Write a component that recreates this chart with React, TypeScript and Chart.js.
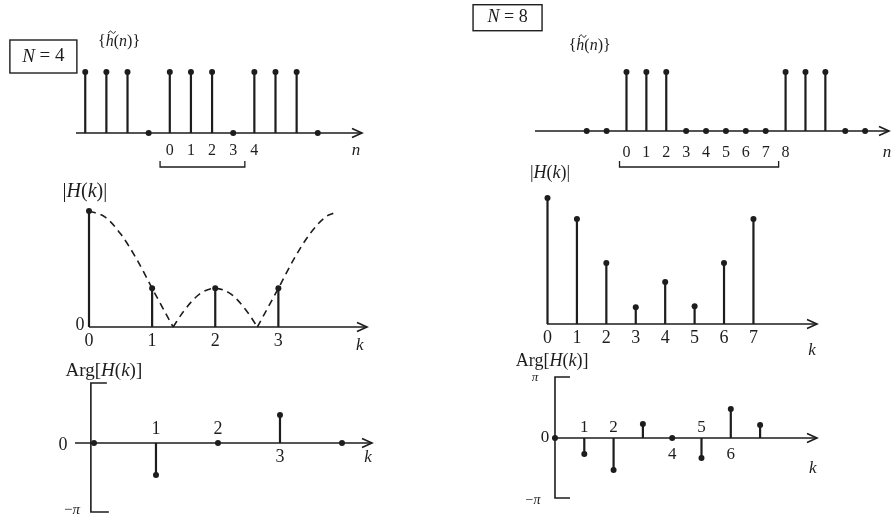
import React, { useEffect, useRef } from "react";
import { Chart, registerables } from "chart.js";

Chart.register(...registerables);

const PAGE_W = 893;
const PAGE_H = 516;
const INK = "#1d1d1d";
const SERIF = '"Liberation Serif", "DejaVu Serif", "Times New Roman", serif';

// periodic sequence h~(n), period N = 4
const nN4 = [-4, -3, -2, -1, 0, 1, 2, 3, 4, 5, 6, 7];
const hN4 = [1, 1, 1, 0, 1, 1, 1, 0, 1, 1, 1, 0];
const nTickAtN4 = [0, 1, 2, 3, 4];
const nTickTextN4 = ["0", "1", "2", "3", "4"];

// periodic sequence h~(n), period N = 8
const nN8 = [-2, -1, 0, 1, 2, 3, 4, 5, 6, 7, 8, 9, 10, 11, 12];
const hN8 = [0, 0, 1, 1, 1, 0, 0, 0, 0, 0, 1, 1, 1, 0, 0];
const nTickAtN8 = [0, 1, 2, 3, 4, 5, 6, 7, 8];
const nTickTextN8 = ["0", "1", "2", "3", "4", "5", "6", "7", "8"];

// |H(k)| for N = 4
const kN4 = [0, 1, 2, 3];
const magN4 = [3, 1, 1, 1];
const kTickAtN4 = [0, 1, 2, 3];
const kTickTextN4 = ["0", "1", "2", "3"];
// dashed envelope |H(e^jw)|, one array pair per lobe (k units)
const lobe1K = [0, 0.25, 0.5, 0.75, 1, 1.333];
const lobe1V = [3, 2.85, 2.41, 1.77, 1, 0];
const lobe2K = [1.333, 1.5, 1.75, 2, 2.25, 2.5, 2.667];
const lobe2V = [0, 0.41, 0.85, 1, 0.85, 0.41, 0];
const lobe3K = [2.667, 3, 3.25, 3.5, 3.75, 3.87];
const lobe3V = [0, 1, 1.77, 2.41, 2.85, 2.94];

// |H(k)| for N = 8
const kN8 = [0, 1, 2, 3, 4, 5, 6, 7];
const magN8 = [3, 2.5, 1.45, 0.4, 1.0, 0.42, 1.45, 2.5];
const kTickAtN8 = [0, 1, 2, 3, 4, 5, 6, 7];
const kTickTextN8 = ["0", "1", "2", "3", "4", "5", "6", "7"];

// Arg[H(k)] for N = 4 (radians)
const kArgN4 = [0, 1, 2, 3, 4];
const argN4 = [0, -1.45, 0, 1.27, 0];
const argTickAtN4 = [1, 2, 3];
const argTickTextN4 = ["1", "2", "3"];
const argTickSideN4 = ["above", "above", "below"];

// Arg[H(k)] for N = 8 (radians)
const kArgN8 = [0, 1, 2, 3, 4, 5, 6, 7];
const argN8 = [0, -0.82, -1.65, 0.72, 0, -1.03, 1.49, 0.67];
const argTickAtN8 = [1, 2, 4, 5, 6];
const argTickTextN8 = ["1", "2", "4", "5", "6"];
const argTickSideN8 = ["above", "above", "below", "above", "below"];

type Seg = { t: string; i?: boolean; tilde?: boolean };
type Note = {
  segs: Seg[];
  x: number;
  y: number;
  size: number;
  box?: [number, number];
};
type Ticks = {
  at: number[];
  text: string[];
  side?: string[];
  below: number;
  above?: number;
  size: number;
};
type Panel = {
  area: [number, number, number, number];
  xRange: [number, number];
  yRange: [number, number];
  stemX: number[];
  stemY: number[];
  curves?: { x: number[]; y: number[] }[];
  ticks: Ticks;
  bracket?: { from: number; to: number; drop: number };
  yBracket?: { at: number; topTick: number; bottomTick: number };
  notes: Note[];
};

const hTilde: Seg[] = [
  { t: "{" },
  { t: "h", i: true, tilde: true },
  { t: "(" },
  { t: "n", i: true },
  { t: ")}" },
];
const absH: Seg[] = [{ t: "|" }, { t: "H", i: true }, { t: "(" }, { t: "k", i: true }, { t: ")|" }];
const argH: Seg[] = [{ t: "Arg[" }, { t: "H", i: true }, { t: "(" }, { t: "k", i: true }, { t: ")]" }];

const PANELS: Panel[] = [
  {
    area: [76, 72, 362, 133],
    xRange: [-4.437, 9.092],
    yRange: [0, 1],
    stemX: nN4,
    stemY: hN4,
    ticks: { at: nTickAtN4, text: nTickTextN4, below: 18, size: 16 },
    bracket: { from: -0.46, to: 3.55, drop: 34 },
    notes: [
      { segs: [{ t: "N", i: true }, { t: " = 4" }], x: -5.98, y: 1.254, size: 19, box: [67, 33] },
      { segs: hTilde, x: -2.4, y: 1.49, size: 16 },
      { segs: [{ t: "n", i: true }], x: 8.81, y: -0.28, size: 17 },
    ],
  },
  {
    area: [535, 72, 891, 131],
    xRange: [-4.6, 13.2],
    yRange: [0, 1],
    stemX: nN8,
    stemY: hN8,
    ticks: { at: nTickAtN8, text: nTickTextN8, below: 22, size: 16 },
    bracket: { from: -0.35, to: 7.65, drop: 36 },
    notes: [
      { segs: [{ t: "N", i: true }, { t: " = 8" }], x: -5.98, y: 1.92, size: 18, box: [69, 26] },
      { segs: hTilde, x: -1.85, y: 1.44, size: 16 },
      { segs: [{ t: "n", i: true }], x: 13.1, y: -0.36, size: 17 },
    ],
  },
  {
    area: [89, 211, 367, 327],
    xRange: [0, 4.404],
    yRange: [0, 3],
    stemX: kN4,
    stemY: magN4,
    curves: [
      { x: lobe1K, y: lobe1V },
      { x: lobe2K, y: lobe2V },
      { x: lobe3K, y: lobe3V },
    ],
    ticks: { at: kTickAtN4, text: kTickTextN4, below: 14, size: 18 },
    notes: [
      { segs: absH, x: -0.065, y: 3.49, size: 20 },
      { segs: [{ t: "0" }], x: -0.144, y: 0.05, size: 18 },
      { segs: [{ t: "k", i: true }], x: 4.29, y: -0.47, size: 17 },
    ],
  },
  {
    area: [547, 198, 817, 324],
    xRange: [-0.017, 9.16],
    yRange: [0, 3],
    stemX: kN8,
    stemY: magN8,
    ticks: { at: kTickAtN8, text: kTickTextN8, below: 14, size: 18 },
    notes: [
      { segs: absH, x: 0.085, y: 3.6, size: 18 },
      { segs: [{ t: "k", i: true }], x: 8.99, y: -0.62, size: 17 },
    ],
  },
  {
    area: [75, 383, 372, 512],
    xRange: [-0.306, 4.484],
    yRange: [-3.136, 2.727],
    stemX: kArgN4,
    stemY: argN4,
    ticks: { at: argTickAtN4, text: argTickTextN4, side: argTickSideN4, below: 14, above: 14, size: 18 },
    yBracket: { at: -0.05, topTick: 16, bottomTick: 18 },
    notes: [
      { segs: argH, x: 0.16, y: 3.27, size: 19 },
      { segs: [{ t: "0" }], x: -0.5, y: -0.09, size: 18 },
      { segs: [{ t: "\u2212" }, { t: "\u03c0", i: true }], x: -0.355, y: -3.05, size: 15 },
      { segs: [{ t: "k", i: true }], x: 4.42, y: -0.68, size: 17 },
    ],
  },
  {
    area: [552, 377, 817, 498],
    xRange: [-0.102, 8.942],
    yRange: [-3.093, 3.144],
    stemX: kArgN8,
    stemY: argN8,
    ticks: { at: argTickAtN8, text: argTickTextN8, side: argTickSideN8, below: 17, above: 10, size: 17 },
    yBracket: { at: 0, topTick: 15, bottomTick: 15 },
    notes: [
      { segs: argH, x: -0.1, y: 3.97, size: 18 },
      { segs: [{ t: "\u03c0", i: true }], x: -0.68, y: 3.09, size: 13 },
      { segs: [{ t: "0" }], x: -0.34, y: 0, size: 17 },
      { segs: [{ t: "\u2212" }, { t: "\u03c0", i: true }], x: -0.75, y: -3.2, size: 14 },
      { segs: [{ t: "k", i: true }], x: 8.8, y: -1.55, size: 17 },
    ],
  },
];

function fontOf(seg: Seg, size: number) {
  return `${seg.i ? "italic " : ""}${size}px ${SERIF}`;
}

// Mixed upright / italic text, centred on (cx, cy)
function drawRich(ctx: CanvasRenderingContext2D, segs: Seg[], cx: number, cy: number, size: number) {
  const widths = segs.map((s) => {
    ctx.font = fontOf(s, size);
    return ctx.measureText(s.t).width;
  });
  const total = widths.reduce((a, b) => a + b, 0);
  let x = cx - total / 2;
  ctx.textBaseline = "middle";
  segs.forEach((s, i) => {
    ctx.font = fontOf(s, size);
    ctx.textAlign = "left";
    ctx.fillText(s.t, x, cy);
    if (s.tilde) {
      // small tilde above the letter, drawn as a short wave
      const tx = x + widths[i] / 2 + size * 0.14;
      const ty = cy - size * 0.62;
      const hw = size * 0.22;
      ctx.save();
      ctx.lineWidth = 1;
      ctx.strokeStyle = INK;
      ctx.beginPath();
      ctx.moveTo(tx - hw, ty + 1);
      ctx.bezierCurveTo(tx - hw * 0.5, ty - 2.5, tx - hw * 0.2, ty - 1, tx, ty);
      ctx.bezierCurveTo(tx + hw * 0.2, ty + 1, tx + hw * 0.5, ty + 2.5, tx + hw, ty - 1);
      ctx.stroke();
      ctx.restore();
    }
    x += widths[i];
  });
}

function decorations(p: Panel) {
  return {
    id: "stemDecor",
    beforeDatasetsDraw(chart: any) {
      const { ctx, chartArea: a, scales } = chart;
      const xs = scales.x;
      const ys = scales.y;
      const y0 = ys.getPixelForValue(0);
      ctx.save();
      ctx.strokeStyle = INK;
      ctx.lineWidth = 1.6;
      ctx.lineCap = "butt";
      // horizontal axis with open arrowhead
      ctx.beginPath();
      ctx.moveTo(a.left, y0);
      ctx.lineTo(a.right, y0);
      ctx.stroke();
      ctx.beginPath();
      ctx.moveTo(a.right - 10, y0 - 4.5);
      ctx.lineTo(a.right, y0);
      ctx.lineTo(a.right - 10, y0 + 4.5);
      ctx.stroke();
      // bracket marking one period
      if (p.bracket) {
        const l = xs.getPixelForValue(p.bracket.from);
        const r = xs.getPixelForValue(p.bracket.to);
        const by = y0 + p.bracket.drop;
        ctx.lineWidth = 1.3;
        ctx.beginPath();
        ctx.moveTo(l, by - 6);
        ctx.lineTo(l, by);
        ctx.lineTo(r, by);
        ctx.lineTo(r, by - 6);
        ctx.stroke();
      }
      // phase axis bracket from -pi to the top
      if (p.yBracket) {
        const bx = xs.getPixelForValue(p.yBracket.at);
        ctx.lineWidth = 1.6;
        ctx.beginPath();
        ctx.moveTo(bx + p.yBracket.topTick, a.top);
        ctx.lineTo(bx, a.top);
        ctx.lineTo(bx, a.bottom);
        ctx.lineTo(bx + p.yBracket.bottomTick, a.bottom);
        ctx.stroke();
      }
      ctx.restore();
    },
    afterDatasetsDraw(chart: any) {
      const { ctx, scales } = chart;
      const xs = scales.x;
      const ys = scales.y;
      const y0 = ys.getPixelForValue(0);
      ctx.save();
      ctx.fillStyle = INK;
      ctx.strokeStyle = INK;
      const t = p.ticks;
      t.at.forEach((v, i) => {
        const side = t.side ? t.side[i] : "below";
        const py = side === "above" ? y0 - (t.above ?? t.below) : y0 + t.below;
        drawRich(ctx, [{ t: t.text[i] }], xs.getPixelForValue(v), py, t.size);
      });
      p.notes.forEach((n) => {
        const cx = xs.getPixelForValue(n.x);
        const cy = ys.getPixelForValue(n.y);
        if (n.box) {
          ctx.lineWidth = 1.4;
          ctx.strokeRect(cx - n.box[0] / 2, cy - n.box[1] / 2, n.box[0], n.box[1]);
        }
        drawRich(ctx, n.segs, cx, cy, n.size);
      });
      ctx.restore();
    },
  };
}

function StemPanel({ panel }: { panel: Panel }) {
  const ref = useRef<HTMLCanvasElement>(null);
  useEffect(() => {
    if (!ref.current) return;
    const [l, t, r, b] = panel.area;
    const stemLines: { x: number; y: number | null }[] = [];
    panel.stemX.forEach((x, i) => {
      stemLines.push({ x, y: 0 }, { x, y: panel.stemY[i] }, { x, y: null });
    });
    const datasets: any[] = [
      ...(panel.curves || []).map((c) => ({
        type: "line",
        data: c.x.map((x, i) => ({ x, y: c.y[i] })),
        borderColor: INK,
        borderWidth: 1.6,
        borderDash: [7, 5],
        pointRadius: 0,
        cubicInterpolationMode: "monotone",
        clip: false,
        order: 3,
      })),
      {
        type: "line",
        data: stemLines,
        borderColor: INK,
        borderWidth: 2.2,
        pointRadius: 0,
        spanGaps: false,
        clip: false,
        order: 2,
      },
      {
        type: "scatter",
        data: panel.stemX.map((x, i) => ({ x, y: panel.stemY[i] })),
        pointRadius: 3,
        pointBackgroundColor: INK,
        pointBorderWidth: 0,
        clip: false,
        order: 1,
      },
    ];
    const chart = new Chart(ref.current, {
      type: "scatter",
      data: { datasets },
      options: {
        animation: false,
        responsive: false,
        maintainAspectRatio: false,
        devicePixelRatio: 1,
        events: [],
        layout: { padding: { left: l, top: t, right: PAGE_W - r, bottom: PAGE_H - b } },
        scales: {
          x: { type: "linear", min: panel.xRange[0], max: panel.xRange[1], display: false },
          y: { type: "linear", min: panel.yRange[0], max: panel.yRange[1], display: false },
        },
        plugins: { legend: { display: false }, tooltip: { enabled: false } },
      },
      plugins: [decorations(panel)],
    } as any);
    return () => chart.destroy();
  }, [panel]);
  return (
    <canvas
      ref={ref}
      width={PAGE_W}
      height={PAGE_H}
      style={{ position: "absolute", left: 0, top: 0, width: PAGE_W, height: PAGE_H }}
    />
  );
}

export default function App() {
  return (
    <div style={{ position: "absolute", left: 0, top: 0, width: PAGE_W, height: PAGE_H, background: "#fff" }}>
      {PANELS.map((p, i) => (
        <StemPanel key={i} panel={p} />
      ))}
    </div>
  );
}
